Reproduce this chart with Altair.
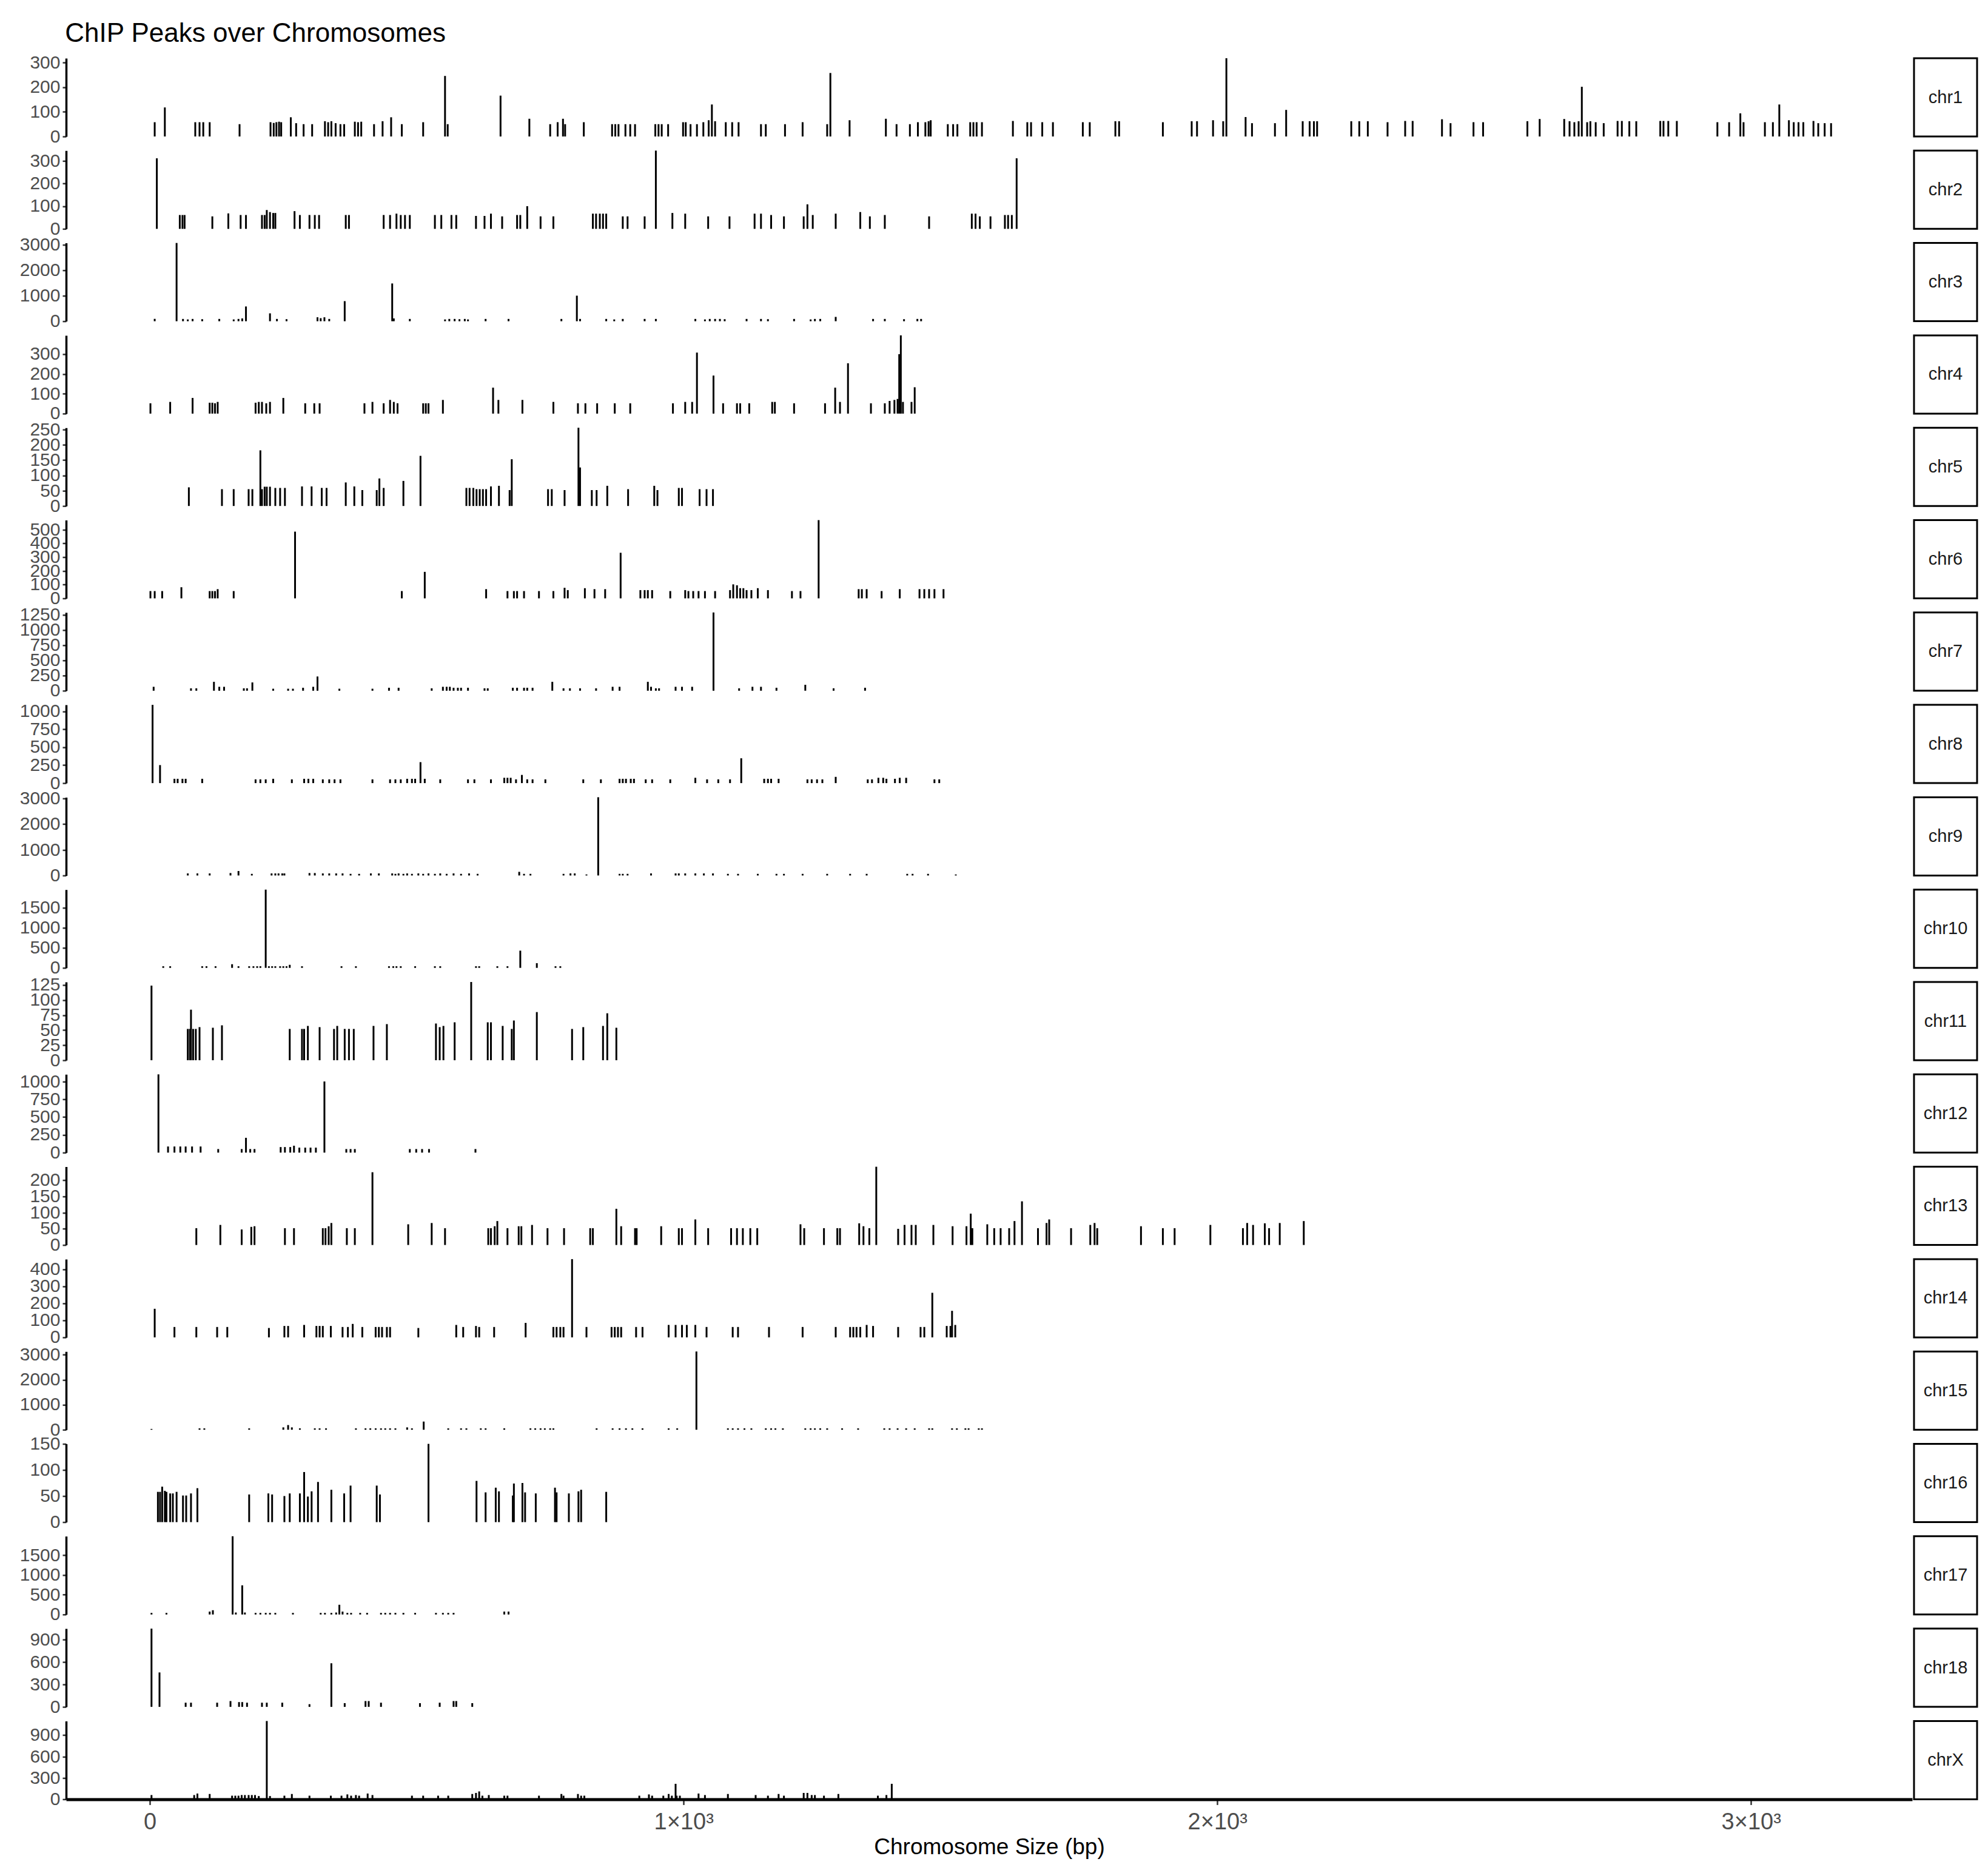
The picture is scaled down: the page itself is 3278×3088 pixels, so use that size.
import altair as alt
import pandas as pd

FONT = "Liberation Sans"

chromosomes = ["chr1", "chr2", "chr3", "chr4", "chr5", "chr6", "chr7", "chr8", "chr9", "chr10",
               "chr11", "chr12", "chr13", "chr14", "chr15", "chr16", "chr17", "chr18", "chrX"]

chr1_pos = [9, 28, 85, 93, 100, 112, 168, 226, 232, 237, 242, 246, 264, 274, 288, 304, 328, 334, 340, 348, 357, 364,
            384, 390, 396, 420, 436, 452, 472, 512, 553, 558, 657, 711, 750, 764, 774, 778, 813, 866, 872, 878, 891,
            900, 909, 947, 953, 959, 971, 999, 1004, 1013, 1025, 1037, 1047, 1053, 1059, 1079, 1091, 1103, 1145, 1154,
            1190, 1223, 1269, 1275, 1311, 1379, 1399, 1424, 1439, 1453, 1459, 1463, 1495, 1505, 1513, 1537, 1543,
            1549, 1559, 1617, 1644, 1651, 1672, 1692, 1748, 1761, 1809, 1816, 1898, 1952, 1962, 1992, 2011, 2017,
            2053, 2065, 2108, 2129, 2160, 2173, 2181, 2187, 2251, 2266, 2282, 2319, 2352, 2366, 2421, 2437, 2480,
            2498, 2581, 2604, 2650, 2660, 2669, 2677, 2683, 2693, 2699, 2709, 2724, 2750, 2758, 2772, 2785, 2830,
            2836, 2845, 2861, 2937, 2959, 2980, 2986, 3026, 3041, 3053, 3071, 3080, 3089, 3098, 3117, 3126, 3138, 3150]
chr1_val = [58, 118, 58, 58, 58, 58, 50, 58, 55, 58, 60, 58, 78, 54, 50, 50, 62, 58, 62, 54, 50, 50,
            60, 58, 60, 50, 62, 78, 50, 58, 246, 50, 166, 72, 50, 58, 72, 50, 58, 50, 50, 50, 50,
            50, 50, 50, 50, 50, 50, 58, 58, 50, 50, 58, 66, 130, 62, 58, 58, 58, 50, 50,
            50, 58, 50, 258, 66, 72, 50, 50, 58, 58, 62, 66, 50, 50, 50, 58, 58,
            58, 58, 63, 58, 58, 58, 58, 58, 58, 62, 62, 58, 62, 62, 66, 62, 318,
            79, 54, 54, 108, 62, 62, 62, 62, 62, 62, 62, 58, 63, 63, 70, 54, 58,
            58, 62, 71, 71, 62, 58, 62, 202, 58, 62, 58, 54, 63, 63, 62, 62, 63,
            63, 63, 63, 58, 58, 94, 58, 58, 58, 130, 66, 58, 58, 58, 63, 54, 54, 54]

chr2_pos = [13, 56, 61, 65, 117, 147, 170, 180, 210, 215, 219, 225, 231, 235, 271, 281, 299, 309, 317, 367, 373, 438,
            450, 462, 470, 478, 487, 534, 546, 565, 574, 611, 627, 639, 660, 688, 694, 707, 732, 756, 830, 836, 843,
            849, 855, 886, 895, 927, 948, 979, 1003, 1046, 1086, 1133, 1145, 1164, 1188, 1225, 1232, 1242, 1285, 1331,
            1349, 1377, 1460, 1540, 1547, 1555, 1575, 1602, 1608, 1615, 1624]
chr2_val = [311, 61, 61, 61, 55, 68, 61, 61, 61, 61, 83, 74, 70, 70, 78, 61, 61, 61, 61, 61, 61, 61,
            61, 67, 61, 61, 61, 61, 61, 61, 61, 57, 57, 67, 55, 61, 61, 100, 55, 55, 67, 67, 67,
            67, 67, 55, 55, 55, 345, 70, 67, 55, 55, 67, 67, 61, 55, 55, 108, 61, 67, 74,
            55, 61, 55, 67, 67, 55, 55, 61, 61, 61, 311]

chr3_pos = [9, 50, 62, 71, 80, 98, 130, 157, 166, 173, 180, 225, 238, 256, 314, 320, 327, 336, 365, 454, 457, 487,
            553, 561, 571, 580, 590, 596, 629, 672, 771, 800, 806, 855, 870, 886, 927, 948, 1022, 1040, 1049, 1059,
            1068, 1077, 1118, 1145, 1158, 1207, 1238, 1246, 1256, 1285, 1355, 1377, 1413, 1438, 1445]
chr3_val = [93, 3077, 90, 70, 90, 80, 90, 70, 90, 110, 580, 310, 90, 80, 155, 120, 155, 90, 790, 1485, 110, 90,
            70, 90, 90, 80, 90, 70, 90, 90, 90, 1005, 90, 90, 70, 90, 90, 90, 90, 70, 90, 90,
            90, 80, 90, 90, 80, 90, 70, 90, 90, 170, 90, 90, 80, 90, 90]

chr4_pos = [1, 38, 80, 112, 117, 122, 127, 198, 204, 210, 218, 225, 250, 291, 308, 318, 402, 417, 438, 450, 457, 464,
            512, 517, 522, 549, 643, 653, 698, 756, 802, 816, 838, 871, 900, 980, 1003, 1016, 1025, 1056, 1074, 1100,
            1106, 1123, 1166, 1171, 1207, 1265, 1284, 1293, 1308, 1351, 1377, 1386, 1395, 1401, 1404, 1407, 1411,
            1427, 1433]
chr4_val = [52, 59, 79, 55, 55, 52, 59, 55, 59, 59, 52, 59, 79, 52, 52, 52, 52, 59, 52, 69, 59, 52,
            52, 52, 52, 69, 131, 69, 69, 59, 52, 52, 52, 52, 52, 52, 59, 59, 308, 192, 52, 52,
            52, 52, 59, 59, 52, 52, 131, 59, 254, 52, 52, 64, 69, 74, 300, 395, 59,
            59, 133]

chr5_pos = [73, 135, 157, 185, 192, 207, 210, 215, 219, 225, 235, 244, 253, 285, 303, 322, 331, 367, 383, 398, 425,
            430, 438, 475, 507, 593, 599, 606, 612, 618, 624, 630, 639, 654, 674, 678, 746, 753, 777, 803, 806, 828,
            837, 857, 896, 945, 951, 991, 997, 1030, 1043, 1055]
chr5_val = [61, 55, 55, 55, 55, 182, 55, 63, 63, 63, 59, 59, 59, 64, 64, 59, 59, 77, 64, 52, 52,
            90, 59, 82, 164, 59, 59, 59, 55, 55, 55, 55, 64, 66, 52, 153, 55, 55, 52, 256, 126, 52,
            52, 66, 55, 66, 52, 59, 59, 55, 55, 55]

chr6_pos = [1, 9, 23, 59, 112, 117, 122, 127, 157, 272, 472, 515, 630, 670, 682, 688, 701, 729, 756, 777, 783, 815,
            833, 853, 882, 919, 927, 933, 941, 975, 1003, 1009, 1018, 1028, 1040, 1059, 1087, 1093, 1100, 1106, 1112,
            1118, 1127, 1139, 1158, 1203, 1219, 1253, 1328, 1334, 1343, 1371, 1405, 1442, 1451, 1460, 1470, 1487]
chr6_val = [53, 53, 53, 81, 53, 53, 53, 67, 53, 486, 53, 193, 67, 53, 53, 53, 53, 53, 53, 77, 60, 74,
            67, 67, 332, 60, 60, 60, 60, 53, 60, 53, 53, 53, 53, 53, 60, 102, 95, 74, 74,
            60, 60, 74, 60, 53, 53, 570, 67, 67, 67, 53, 67, 67, 67, 67, 67, 67]

chr7_pos = [7, 77, 87, 120, 130, 139, 176, 182, 192, 231, 259, 268, 287, 306, 314, 355, 417, 448, 466, 528, 549, 556,
            562, 569, 577, 583, 596, 627, 633, 680, 688, 701, 707, 717, 754, 775, 787, 806, 836, 867, 880, 933, 939,
            948, 954, 985, 997, 1016, 1056, 1104, 1129, 1145, 1174, 1228, 1281, 1340]
chr7_val = [65, 40, 40, 147, 65, 65, 40, 40, 137, 33, 33, 33, 49, 65, 235, 33, 33, 49, 49, 40, 65, 65,
            65, 49, 49, 49, 49, 40, 40, 49, 49, 49, 49, 49, 147, 40, 40, 40, 40, 65, 65, 147, 65,
            40, 40, 65, 65, 65, 1292, 40, 65, 65, 49, 98, 40, 49]

chr8_pos = [5, 19, 46, 52, 61, 67, 98, 198, 207, 217, 231, 266, 289, 297, 306, 324, 336, 346, 357, 417, 450, 460,
            470, 482, 491, 497, 507, 515, 544, 596, 608, 639, 664, 670, 676, 686, 697, 707, 717, 741, 812, 845, 880,
            886, 892, 901, 907, 929, 941, 975, 1022, 1044, 1065, 1087, 1108, 1151, 1158, 1164, 1178, 1232, 1240,
            1250, 1260, 1285, 1345, 1353, 1365, 1374, 1380, 1396, 1405, 1417, 1470, 1479]
chr8_val = [1090, 251, 60, 60, 60, 60, 60, 52, 52, 52, 60, 52, 60, 60, 60, 52, 52, 52, 52, 52, 52, 52,
            52, 60, 60, 60, 292, 60, 52, 52, 52, 52, 74, 74, 74, 52, 114, 52, 52, 52, 52, 52, 60,
            60, 60, 60, 60, 52, 52, 52, 74, 52, 52, 52, 346, 60, 60, 60, 60, 52, 52,
            52, 52, 87, 52, 52, 74, 74, 60, 60, 74, 74, 52, 52]

chr9_pos = [71, 89, 112, 151, 166, 191, 228, 235, 241, 248, 252, 299, 309, 324, 336, 349, 361, 376, 392, 414, 429,
            454, 460, 466, 475, 482, 491, 503, 512, 522, 534, 544, 556, 569, 583, 598, 614, 692, 701, 713, 775, 788,
            796, 818, 840, 880, 886, 895, 939, 985, 991, 1003, 1022, 1038, 1055, 1083, 1102, 1139, 1174, 1188, 1223,
            1269, 1312, 1343, 1419, 1429, 1458, 1510]
chr9_val = [80, 80, 80, 95, 174, 63, 80, 80, 80, 80, 80, 95, 95, 80, 80, 80, 80, 63, 63, 80, 80,
            80, 63, 80, 63, 80, 63, 80, 63, 80, 63, 80, 63, 80, 63, 80, 63, 142, 63, 63, 63, 80,
            80, 40, 3050, 63, 63, 63, 80, 80, 80, 80, 80, 80, 80, 63, 63, 63, 63, 63, 63,
            63, 63, 63, 63, 63, 63, 40]

chr10_pos = [25, 38, 98, 106, 123, 154, 166, 186, 194, 201, 207, 217, 223, 229, 235, 244, 250, 256, 262, 285, 359,
             386, 448, 456, 462, 470, 497, 534, 544, 611, 617, 651, 670, 694, 725, 760, 769]
chr10_val = [40, 40, 40, 40, 40, 91, 40, 40, 40, 40, 40, 1960, 40, 40, 40, 40, 40, 40, 76, 40, 40,
             40, 40, 40, 40, 40, 40, 40, 40, 40, 40, 40, 40, 431, 117, 40, 40]

chr11_pos = [3, 71, 75, 77, 81, 86, 93, 118, 135, 262, 285, 289, 296, 318, 345, 351, 365, 373, 382, 419, 444, 536,
             543, 550, 571, 602, 633, 639, 661, 678, 682, 725, 791, 812, 849, 857, 874]
chr11_val = [124, 52, 52, 84, 52, 52, 55, 54, 58, 52, 52, 52, 57, 55, 52, 57, 52, 52, 52, 57, 60, 61,
             55, 57, 63, 130, 63, 63, 57, 52, 66, 80, 52, 55, 57, 78, 54]

chr12_pos = [16, 34, 46, 57, 67, 79, 95, 128, 172, 180, 188, 196, 245, 253, 263, 270, 280, 291, 301, 311, 327, 368,
             376, 384, 487, 499, 510, 523, 610]
chr12_val = [1100, 86, 86, 86, 86, 86, 86, 50, 50, 208, 50, 50, 78, 78, 78, 97, 70, 70, 70, 70, 1000, 50,
             50, 50, 50, 50, 50, 50, 50]

chr13_pos = [87, 132, 172, 190, 196, 253, 270, 324, 329, 335, 340, 369, 384, 417, 484, 528, 553, 634, 639, 646, 651,
             670, 691, 696, 716, 745, 776, 825, 830, 874, 883, 909, 912, 958, 991, 997, 1022, 1046, 1089, 1100, 1111,
             1125, 1138, 1219, 1226, 1263, 1288, 1293, 1329, 1337, 1348, 1361, 1402, 1414, 1427, 1435, 1468, 1504,
             1530, 1538, 1541, 1569, 1582, 1594, 1610, 1620, 1634, 1664, 1680, 1685, 1726, 1762, 1770, 1775, 1857,
             1898, 1920, 1987, 2048, 2056, 2067, 2089, 2097, 2117, 2162]
chr13_val = [52, 62, 48, 56, 58, 52, 52, 52, 52, 58, 68, 52, 52, 225, 64, 68, 52, 52, 52, 58, 74,
             52, 58, 58, 62, 52, 52, 52, 52, 112, 58, 52, 52, 58, 52, 52, 79, 52, 52, 52, 52,
             52, 52, 64, 52, 52, 52, 52, 67, 58, 52, 242, 50, 62, 62, 62, 62, 58,
             58, 97, 52, 64, 52, 52, 52, 74, 135, 52, 68, 79, 52, 62, 68, 52, 58,
             52, 52, 62, 52, 68, 62, 67, 52, 68, 74]

chr14_pos = [9, 46, 87, 126, 145, 223, 252, 259, 289, 312, 318, 324, 339, 361, 371, 380, 398, 423, 429, 435, 444,
             450, 503, 574, 587, 611, 617, 645, 704, 756, 762, 769, 775, 791, 818, 865, 871, 877, 883, 911, 923, 972,
             985, 997, 1006, 1022, 1043, 1092, 1102, 1160, 1223, 1285, 1312, 1318, 1324, 1331, 1343, 1355, 1402,
             1444, 1451, 1466, 1493, 1500, 1503, 1509]
chr14_val = [168, 61, 61, 61, 61, 55, 67, 67, 73, 67, 67, 67, 67, 61, 61, 79, 61, 61, 61, 61, 61,
             61, 55, 73, 61, 67, 61, 61, 85, 61, 61, 61, 61, 460, 61, 61, 61, 61, 61, 61, 61, 73,
             73, 73, 73, 73, 61, 61, 61, 61, 61, 61, 61, 61, 61, 61, 73, 67, 61,
             61, 61, 262, 67, 67, 156, 73]

chr15_pos = [3, 93, 102, 186, 250, 259, 266, 281, 309, 318, 330, 386, 404, 413, 423, 433, 441, 450, 460, 482, 491,
             513, 559, 583, 593, 620, 629, 664, 713, 722, 732, 740, 750, 756, 837, 867, 880, 892, 904, 923, 972, 988,
             1024, 1083, 1092, 1102, 1114, 1127, 1154, 1164, 1172, 1186, 1228, 1238, 1246, 1256, 1269, 1297, 1327,
             1376, 1386, 1401, 1417, 1433, 1460, 1466, 1503, 1512, 1528, 1534, 1553, 1559]
chr15_val = [32, 55, 55, 55, 94, 187, 94, 55, 55, 55, 55, 55, 55, 55, 55, 55, 55, 55, 55, 94, 55,
             327, 55, 55, 55, 55, 55, 55, 55, 55, 55, 55, 55, 55, 55, 55, 55, 55, 55, 55, 55, 55,
             3130, 55, 55, 55, 55, 55, 55, 55, 55, 55, 55, 55, 55, 55, 55, 55, 55,
             55, 55, 55, 55, 55, 55, 55, 55, 55, 55, 55, 55, 55]

chr16_pos = [15, 19, 23, 28, 31, 38, 43, 50, 62, 68, 77, 89, 186, 222, 229, 252, 262, 281, 289, 296, 303, 315, 340,
             364, 376, 425, 431, 522, 612, 629, 648, 654, 680, 682, 698, 703, 723, 759, 762, 785, 803, 808, 855]
chr16_val = [58, 58, 68, 60, 58, 55, 55, 58, 51, 51, 55, 65, 53, 55, 53, 50, 55, 55, 96, 49, 59, 77, 62,
             55, 70, 70, 53, 150, 79, 57, 66, 59, 51, 74, 75, 57, 55, 66, 57, 55, 59, 62, 58]

chr17_pos = [3, 31, 112, 118, 155, 161, 173, 178, 198, 207, 217, 225, 235, 268, 320, 328, 340, 349, 355, 361, 370,
             377, 394, 407, 433, 441, 450, 460, 475, 497, 536, 549, 559, 569, 664, 672]
chr17_val = [40, 40, 74, 108, 1980, 50, 738, 50, 40, 40, 40, 40, 40, 40, 40, 40, 40, 50, 246, 74, 40,
             40, 40, 40, 40, 40, 40, 40, 40, 40, 40, 40, 40, 40, 74, 74]

chr18_pos = [3, 18, 67, 77, 126, 151, 167, 173, 182, 210, 219, 248, 299, 340, 365, 404, 410, 433, 506, 543, 569,
             574, 604]
chr18_val = [1050, 462, 56, 56, 56, 78, 64, 64, 56, 56, 56, 56, 36, 585, 50, 78, 78, 56, 50, 56, 78,
             78, 50]

chrX_pos = [3, 83, 89, 112, 154, 160, 166, 172, 178, 185, 191, 197, 204, 219, 225, 252, 266, 299, 339, 359, 370,
            377, 386, 392, 408, 417, 491, 512, 540, 559, 604, 611, 617, 623, 635, 664, 670, 729, 771, 775, 802, 808,
            814, 917, 935, 941, 962, 972, 978, 985, 987, 993, 1028, 1040, 1083, 1135, 1158, 1178, 1188, 1225, 1232,
            1240, 1246, 1263, 1290, 1364, 1380, 1390]
chrX_val = [59, 59, 80, 74, 50, 50, 50, 59, 59, 59, 59, 59, 45, 1100, 45, 50, 74, 50, 50, 50, 68,
            50, 59, 50, 80, 59, 50, 50, 50, 50, 74, 89, 110, 50, 59, 50, 50, 50, 74, 50, 74, 50,
            50, 50, 68, 50, 50, 74, 50, 217, 50, 50, 80, 59, 74, 59, 50, 74, 50, 89, 89,
            59, 59, 50, 74, 50, 59, 217]

y_tick_values = {
    "chr1": [0, 100, 200, 300], "chr2": [0, 100, 200, 300], "chr3": [0, 1000, 2000, 3000],
    "chr4": [0, 100, 200, 300], "chr5": [0, 50, 100, 150, 200, 250], "chr6": [0, 100, 200, 300, 400, 500],
    "chr7": [0, 250, 500, 750, 1000, 1250], "chr8": [0, 250, 500, 750, 1000], "chr9": [0, 1000, 2000, 3000],
    "chr10": [0, 500, 1000, 1500], "chr11": [0, 25, 50, 75, 100, 125], "chr12": [0, 250, 500, 750, 1000],
    "chr13": [0, 50, 100, 150, 200], "chr14": [0, 100, 200, 300, 400], "chr15": [0, 1000, 2000, 3000],
    "chr16": [0, 50, 100, 150], "chr17": [0, 500, 1000, 1500], "chr18": [0, 300, 600, 900],
    "chrX": [0, 300, 600, 900],
}
x_tick_values = [0, 1000, 2000, 3000]

series = {
    "chr1": (chr1_pos, chr1_val), "chr2": (chr2_pos, chr2_val), "chr3": (chr3_pos, chr3_val),
    "chr4": (chr4_pos, chr4_val), "chr5": (chr5_pos, chr5_val), "chr6": (chr6_pos, chr6_val),
    "chr7": (chr7_pos, chr7_val), "chr8": (chr8_pos, chr8_val), "chr9": (chr9_pos, chr9_val),
    "chr10": (chr10_pos, chr10_val), "chr11": (chr11_pos, chr11_val), "chr12": (chr12_pos, chr12_val),
    "chr13": (chr13_pos, chr13_val), "chr14": (chr14_pos, chr14_val), "chr15": (chr15_pos, chr15_val),
    "chr16": (chr16_pos, chr16_val), "chr17": (chr17_pos, chr17_val), "chr18": (chr18_pos, chr18_val),
    "chrX": (chrX_pos, chrX_val),
}

X_DOMAIN = [-157, 3302]
PANEL_W = 3044
PANEL_H = 129
STRIP_W = 104

charts = []
for i, name in enumerate(chromosomes):
    pos, val = series[name]
    df = pd.DataFrame({"pos": pos, "val": val})
    bottom = i == len(chromosomes) - 1
    if bottom:
        x_enc = alt.X(
            "pos:Q",
            scale=alt.Scale(domain=X_DOMAIN, nice=False, zero=False),
            axis=alt.Axis(
                values=x_tick_values,
                labelExpr="datum.value == 0 ? '0' : (datum.value / 1000) + '×10³'",
                title="Chromosome Size (bp)",
            ),
        )
    else:
        x_enc = alt.X("pos:Q", scale=alt.Scale(domain=X_DOMAIN, nice=False, zero=False), axis=None)
    panel = alt.Chart(df).mark_rule(color="black", strokeWidth=3).encode(
        x=x_enc,
        y=alt.Y("val:Q", scale=alt.Scale(nice=False, zero=True),
                axis=alt.Axis(values=y_tick_values[name], title=None, format="d")),
        y2=alt.datum(0),
    ).properties(width=PANEL_W, height=PANEL_H)
    strip = alt.Chart(pd.DataFrame({"label": [name]})).mark_text(
        font=FONT, fontSize=29, color="#1A1A1A"
    ).encode(text="label:N").properties(
        width=STRIP_W, height=PANEL_H,
        view=alt.ViewBackground(stroke="black", strokeWidth=3),
    )
    charts += [panel, strip]

chart = alt.concat(
    *charts, columns=2, spacing={"row": 23.3, "column": 3}, bounds="flush",
    title=alt.TitleParams("ChIP Peaks over Chromosomes", anchor="start", font=FONT, fontSize=44,
                          fontWeight="normal", color="black", offset=10, dx=75),
).properties(
    padding={"left": 24, "top": 26, "right": 5, "bottom": 5}
).configure_view(strokeWidth=0).configure_axis(
    labelFont=FONT, labelColor="#4D4D4D", tickColor="#333333", tickWidth=2.5,
    domainColor="black", grid=False, labelOverlap=False, labelFlush=False,
    titleFont=FONT, titleColor="black", titleFontWeight="normal",
).configure_axisY(
    domainWidth=3.5, tickSize=6, labelPadding=4, labelFontSize=30,
).configure_axisX(
    domainWidth=5, tickSize=9, labelPadding=10, labelFontSize=38, titleFontSize=37, titlePadding=4,
)

chart.save("out.html", embed_options={"renderer": "svg", "actions": False})
